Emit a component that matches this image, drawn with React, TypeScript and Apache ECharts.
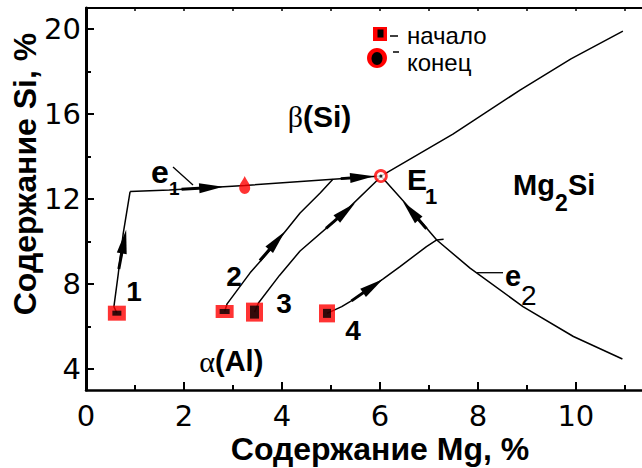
import React, { useEffect, useRef } from "react";
import * as echarts from "echarts";

// ---- data (Mg %, Si %) ----
const xMajorTicks = [0, 2, 4, 6, 8, 10];
const xMinorTicks = [1, 3, 5, 7, 9, 11];
const xTopTicks = [0, 1, 2, 3, 4, 5, 6, 7, 8, 9, 10, 11];
const yMajorTicks = [4, 8, 12, 16, 20];
const yMinorTicks = [6, 10, 14, 18];

const boundarySiMg2Si = [[6.02, 13.08], [7.49, 15.06], [8.86, 17.13], [9.9, 18.6], [10.96, 19.91]];
const lineE1 = [[0.9, 12.35], [1.7, 12.42], [3.24, 12.64], [5.04, 12.93], [6.02, 13.08]];
const lineE2 = [[6.02, 13.08], [6.5, 11.85], [7.16, 10.07], [7.84, 8.74], [8.92, 6.93], [9.95, 5.52], [10.95, 4.46]];
const path1 = [[0.63, 6.62], [0.57, 6.93], [0.66, 8.5], [0.76, 10.38], [0.9, 12.35]];
const path2 = [[2.83, 6.7], [2.88, 7.06], [3.35, 8.52], [3.8, 9.7], [4.37, 11.34], [4.78, 12.28], [5.04, 12.93]];
const path3 = [[3.44, 6.67], [3.52, 7.1], [3.95, 8.4], [4.37, 9.55], [5.18, 11.17], [5.93, 12.85], [6.02, 13.08]];
const path4 = [[4.92, 6.61], [5.22, 6.93], [5.45, 7.25], [5.65, 7.58], [6.06, 8.22], [6.41, 8.81], [6.95, 9.76], [7.16, 10.07], [7.3, 10.1]];

// arrows: [tailX, tailY, headX, headY]
const arrows = [
  [0.67, 8.7, 0.82, 10.55],
  [1.95, 12.46, 2.8, 12.58],
  [5.2, 12.96, 5.88, 13.07],
  [3.55, 9.1, 4.06, 10.47],
  [4.9, 10.62, 5.49, 11.8],
  [5.42, 7.2, 6.06, 8.22],
  [6.95, 10.6, 6.47, 11.87],
];

const startPoints = [[0.63, 6.62], [2.83, 6.7], [3.44, 6.67], [4.92, 6.61]];
const endPoint = [[3.24, 12.66]];
const eutecticE1 = [[6.02, 13.08]];

// ---- styles ----
const startOuterSizes = [[18, 15], [18, 13], [17, 19], [16, 18]];
const startInnerSizes = [[9, 5], [10, 5], [9, 13], [8, 9]];
const RED = "#ff0000";
const SANS = "Liberation Sans";
const X_MAX = 11.35;

function txt(text: string, x: number, y: number, fontSize: number, extra: any = {}) {
  return {
    type: "text",
    x,
    y,
    z: 20,
    rotation: extra.rotation || 0,
    style: {
      text,
      fill: "#000",
      fontSize,
      lineHeight: Math.round(fontSize * 0.72),
      fontFamily: extra.fontFamily || SANS,
      fontWeight: extra.fontWeight || "bold",
      align: extra.align || "left",
      verticalAlign: "middle",
    },
  };
}

export default function App() {
  const ref = useRef<HTMLDivElement>(null);
  useEffect(() => {
    if (!ref.current) return;
    const chart = echarts.init(ref.current, null, { renderer: "svg" });
    const lineSeries = [boundarySiMg2Si, lineE1, lineE2, path1, path2, path3, path4].map((d) => ({
      type: "line",
      data: d,
      symbol: "none",
      silent: true,
      z: 2,
      lineStyle: { color: "#000", width: 1.5 },
    }));
    const axisBase = {
      type: "value",
      splitLine: { show: false },
    };
    const option: any = {
      animation: false,
      backgroundColor: "#fff",
      grid: [
        { left: 86, right: 0, top: 8, bottom: 78 },
        { left: 86, right: 0, top: 8, bottom: 78 },
      ],
      xAxis: [
        {
          ...axisBase,
          gridIndex: 0,
          position: "bottom",
          min: 0,
          max: X_MAX,
          axisLine: { show: true, onZero: false, lineStyle: { color: "#000", width: 2.5 } },
          axisTick: { show: true, inside: true, length: 8, customValues: xMajorTicks, lineStyle: { color: "#000", width: 2 } },
          axisLabel: { show: true, customValues: xMajorTicks, margin: 11, color: "#000", fontSize: 29, fontFamily: "DejaVu Sans" },
        },
        {
          ...axisBase,
          gridIndex: 0,
          position: "top",
          min: 0,
          max: X_MAX,
          axisLine: { show: true, onZero: false, lineStyle: { color: "#000", width: 2 } },
          axisTick: { show: true, inside: true, length: 3, customValues: xTopTicks, lineStyle: { color: "#000", width: 1.5 } },
          axisLabel: { show: false },
        },
        {
          ...axisBase,
          gridIndex: 1,
          position: "bottom",
          min: 0,
          max: X_MAX,
          axisLine: { show: false, onZero: false },
          axisTick: { show: true, inside: true, length: 5, customValues: xMinorTicks, lineStyle: { color: "#000", width: 2 } },
          axisLabel: { show: false },
        },
      ],
      yAxis: [
        {
          ...axisBase,
          gridIndex: 0,
          position: "left",
          min: 3,
          max: 21,
          axisLine: { show: true, onZero: false, lineStyle: { color: "#000", width: 3 } },
          axisTick: { show: true, inside: true, length: 8, customValues: yMajorTicks, lineStyle: { color: "#000", width: 2 } },
          axisLabel: { show: true, customValues: yMajorTicks, margin: 5, color: "#000", fontSize: 29, fontFamily: "DejaVu Sans" },
        },
        {
          ...axisBase,
          gridIndex: 1,
          position: "left",
          min: 3,
          max: 21,
          axisLine: { show: false, onZero: false },
          axisTick: { show: true, inside: true, length: 5, customValues: yMinorTicks, lineStyle: { color: "#000", width: 2 } },
          axisLabel: { show: false },
        },
      ],
      series: [
        ...lineSeries,
        {
          type: "custom",
          xAxisIndex: 0,
          yAxisIndex: 0,
          data: arrows,
          encode: { x: [0, 2], y: [1, 3] },
          z: 3,
          silent: true,
          renderItem: (params: any, api: any) => {
            const p0 = api.coord([api.value(0), api.value(1)]);
            const p1 = api.coord([api.value(2), api.value(3)]);
            const dx = p1[0] - p0[0];
            const dy = p1[1] - p0[1];
            const len = Math.hypot(dx, dy) || 1;
            const ux = dx / len, uy = dy / len;
            const nx = -uy, ny = ux;
            const headLen = Math.min(24, len);
            const hw = 5;
            const bx = p1[0] - ux * headLen, by = p1[1] - uy * headLen;
            return {
              type: "group",
              children: [
                { type: "line", shape: { x1: p0[0], y1: p0[1], x2: bx + ux * 4, y2: by + uy * 4 }, style: { stroke: "#000", lineWidth: 3 } },
                {
                  type: "polygon",
                  shape: { points: [[p1[0], p1[1]], [bx + nx * hw, by + ny * hw], [bx - nx * hw, by - ny * hw]] },
                  style: { fill: "#000" },
                },
              ],
            };
          },
        },
        {
          type: "scatter",
          data: startPoints,
          symbol: "rect",
          symbolSize: (_v: any, p: any) => startOuterSizes[p.dataIndex],
          itemStyle: { color: RED },
          z: 5,
          silent: true,
        },
        {
          type: "scatter",
          data: startPoints,
          symbol: "rect",
          symbolSize: (_v: any, p: any) => startInnerSizes[p.dataIndex],
          itemStyle: { color: "#000" },
          z: 6,
          silent: true,
        },
        {
          type: "scatter",
          data: endPoint,
          symbol: "path://M5 0C6.5 4 10 7 10 11.5A5 5.5 0 0 1 0 11.5C0 7 3.5 4 5 0Z",
          symbolSize: [11, 18],
          itemStyle: { color: RED },
          z: 5,
          silent: true,
        },
        {
          type: "scatter",
          data: eutecticE1,
          symbol: "circle",
          symbolSize: 11,
          itemStyle: { color: "#fff", borderColor: RED, borderWidth: 2.8 },
          z: 5,
          silent: true,
        },
        {
          type: "scatter",
          data: eutecticE1,
          symbol: "circle",
          symbolSize: 3,
          itemStyle: { color: "#000" },
          z: 6,
          silent: true,
        },
      ],
      graphic: [
        // legend
        { type: "rect", z: 20, shape: { x: 373, y: 27, width: 14, height: 14 }, style: { fill: RED } },
        { type: "rect", z: 21, shape: { x: 377.5, y: 29.5, width: 6, height: 8 }, style: { fill: "#000" } },
        { type: "line", z: 20, shape: { x1: 390, y1: 36, x2: 398, y2: 36 }, style: { stroke: "#000", lineWidth: 1.5 } },
        txt("начало", 407, 35.5, 24, { fontWeight: "normal" }),
        { type: "ellipse", z: 20, shape: { cx: 377, cy: 58, rx: 10, ry: 10 }, style: { fill: RED } },
        { type: "ellipse", z: 21, shape: { cx: 377, cy: 58.5, rx: 5.5, ry: 6.5 }, style: { fill: "#000" } },
        { type: "line", z: 20, shape: { x1: 393, y1: 52, x2: 399, y2: 52 }, style: { stroke: "#000", lineWidth: 1.5 } },
        txt("конец", 407, 62, 24, { fontWeight: "normal" }),
        // region labels
        txt("β", 303, 116, 30, { fontFamily: "Liberation Serif", fontWeight: "normal", align: "right" }),
        txt("(Si)", 303, 116, 30),
        txt("α", 215, 361, 30, { fontFamily: "Liberation Serif", fontWeight: "normal", align: "right" }),
        txt("(Al)", 215, 361, 29),
        txt("Mg", 513, 184.6, 29),
        txt("2", 555, 203, 23),
        txt("Si", 568, 184.6, 29),
        txt("E", 407, 179, 30),
        txt("1", 425, 196, 22),
        txt("e", 151, 171.8, 32),
        txt("1", 169, 188.5, 19),
        { type: "line", z: 20, shape: { x1: 173, y1: 167, x2: 193, y2: 185 }, style: { stroke: "#000", lineWidth: 1.3 } },
        txt("e", 505, 276.3, 29),
        txt("2", 521, 295.5, 28, { fontWeight: "normal" }),
        { type: "line", z: 20, shape: { x1: 477, y1: 272.7, x2: 503, y2: 272.7 }, style: { stroke: "#000", lineWidth: 1.3 } },
        // path numbers
        txt("1", 134, 291.6, 28, { align: "center" }),
        txt("2", 234, 276, 28, { align: "center" }),
        txt("3", 284, 303, 28, { align: "center" }),
        txt("4", 353, 330, 28, { align: "center" }),
        // axis titles
        txt("Содержание Mg, %", 380, 449, 32, { align: "center" }),
        txt("Содержание Si, %", 25, 174, 32, { align: "center", rotation: Math.PI / 2 }),
      ],
    };
    chart.setOption(option);
    return () => chart.dispose();
  }, []);
  return (
    <div
      ref={ref}
      style={{ position: "fixed", left: 0, top: 0, width: 642, height: 468, background: "#fff" }}
    />
  );
}
